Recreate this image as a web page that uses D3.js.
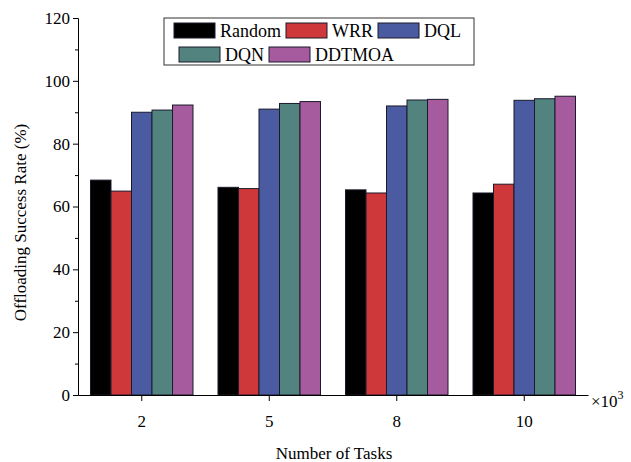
<!DOCTYPE html>
<html>
<head>
  <meta charset='utf-8'>
  <title>Offloading success rate</title>
  <script src="https://cdn.jsdelivr.net/npm/d3@7"></script>
  <style>
    html, body { margin: 0; padding: 0; background: #fff; }
    svg text { font-family: 'Liberation Serif', 'Times New Roman', serif; fill: #000; }
  </style>
</head>
<body>
<svg id="chart" width="631" height="462"></svg>
<script>
// data
var tasks = ['2', '5', '8', '10'];
var methods = ['Random', 'WRR', 'DQL', 'DQN', 'DDTMOA'];
var colors = ['#000000', '#cf383b', '#4b5ba2', '#52837f', '#a55b9e'];
var random = [68.4, 66.1, 65.3, 64.3];
var wrr = [64.9, 65.7, 64.3, 67.1];
var dql = [90.0, 91.0, 92.0, 93.8];
var dqn = [90.7, 92.8, 93.9, 94.3];
var ddtmoa = [92.3, 93.4, 94.1, 95.1];
var yTicks = [0, 20, 40, 60, 80, 100, 120];

var series = [random, wrr, dql, dqn, ddtmoa];

var svg = d3.select('#chart');
var margin = {top: 18, right: 43, bottom: 67, left: 78};
var width = 631 - margin.left - margin.right,
    height = 462 - margin.top - margin.bottom;

var g = svg.append('g')
  .attr('transform', 'translate(' + margin.left + ',' + margin.top + ')');

var x0 = d3.scaleBand().domain(tasks).range([0, width]).paddingInner(0.196).paddingOuter(0.098);
var x1 = d3.scaleBand().domain(methods).range([0, x0.bandwidth()]);
var y = d3.scaleLinear().domain([0, 120]).range([height, 0]);
var color = d3.scaleOrdinal().domain(methods).range(colors);

// bars
var groups = g.selectAll('.grp')
  .data(tasks)
  .enter().append('g')
  .attr('class', 'grp')
  .attr('transform', function(d) { return 'translate(' + x0(d) + ',0)'; });

groups.selectAll('rect')
  .data(function(d, i) { return methods.map(function(m, j) { return {m: m, v: series[j][i]}; }); })
  .enter().append('rect')
  .attr('x', function(d) { return x1(d.m); })
  .attr('y', function(d) { return y(d.v); })
  .attr('width', x1.bandwidth())
  .attr('height', function(d) { return height - y(d.v); })
  .attr('fill', function(d) { return color(d.m); })
  .attr('stroke', '#1a1a2a')
  .attr('stroke-width', 1);

// y axis: major + minor ticks
var yMinor = d3.axisLeft(y).tickValues(d3.range(10, 120, 20)).tickSize(3).tickFormat('');
g.append('g').call(yMinor).call(function(s) { s.select('.domain').remove(); });

var yAxis = d3.axisLeft(y).tickValues(yTicks).tickSize(5).tickPadding(3);
g.append('g').call(yAxis)
  .call(function(s) { s.selectAll('text').style('font-size', '17px'); });

// x axis
var xAxis = d3.axisBottom(x0).tickSize(6).tickSizeOuter(0).tickPadding(14);
g.append('g')
  .attr('transform', 'translate(0,' + height + ')')
  .call(xAxis)
  .call(function(s) { s.selectAll('text').style('font-size', '17px'); });

g.selectAll('.domain, .tick line').attr('stroke', '#000');

// multiplier
var mult = svg.append('text')
  .attr('x', margin.left + width + 3)
  .attr('y', margin.top + height + 12)
  .style('font-size', '17px');
mult.append('tspan').text('\u00d710');
mult.append('tspan').attr('dy', -8).style('font-size', '12px').text('3');

// axis titles
svg.append('text')
  .attr('x', margin.left + width / 2 + 1)
  .attr('y', 459)
  .attr('text-anchor', 'middle')
  .style('font-size', '17px')
  .text('Number of Tasks');

svg.append('text')
  .attr('transform', 'translate(26,' + (margin.top + height / 2 + 16) + ') rotate(-90)')
  .attr('text-anchor', 'middle')
  .style('font-size', '17px')
  .text('Offloading Success Rate (%)');

// legend
var legend = svg.append('g').attr('transform', 'translate(164,18)');
legend.append('rect')
  .attr('width', 310).attr('height', 47)
  .attr('fill', '#fff').attr('stroke', '#333').attr('stroke-width', 1);

var rows = [[0, 1, 2], [3, 4]];
var rowX = [10, 15];
rows.forEach(function(row, r) {
  var cx = rowX[r];
  row.forEach(function(j) {
    var item = legend.append('g').attr('transform', 'translate(' + cx + ',' + (5 + r * 24) + ')');
    item.append('rect')
      .attr('width', 41).attr('height', 15)
      .attr('fill', colors[j]).attr('stroke', '#1a1a2a');
    var t = item.append('text')
      .attr('x', 46).attr('y', 14)
      .style('font-size', '18px')
      .text(methods[j]);
    cx += 46 + t.node().getComputedTextLength() + 5;
  });
});
</script>
</body>
</html>
